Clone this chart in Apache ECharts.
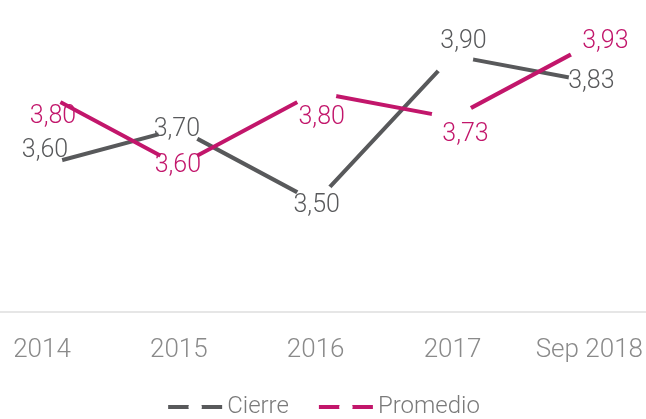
<!DOCTYPE html>
<html>
<head>
<meta charset="utf-8">
<script src="https://cdn.jsdelivr.net/npm/echarts@6/dist/echarts.min.js"></script>
<style>
  html, body { margin: 0; padding: 0; background: #fff; }
  #chart { width: 646px; height: 419px; }
</style>
</head>
<body>
<div id="chart"></div>
<script>
// datos
const categories = ['2014', '2015', '2016', '2017', 'Sep 2018'];
const cierre = [3.60, 3.70, 3.50, 3.90, 3.83];
const promedio = [3.80, 3.60, 3.80, 3.73, 3.93];

// desplazamiento de etiquetas (px)
const cierreOffsets = [[3, -15], [-2, 1], [1, 4], [11, -14], [2, 0]];
const promedioOffsets = [[11, 24], [-1, 0], [6, 25], [13, 17], [16, -3]];

const GRAY = '#58595b';
const MAGENTA = '#c2166b';
const FONT = 'Roboto';

const fmt = v => v.toFixed(2).replace('.', ',');

const buildData = (values, offsets) => values.map((v, i) => ({
  value: v,
  label: { offset: offsets[i] }
}));

const makeSeries = (name, values, offsets, color) => ({
  name,
  type: 'line',
  data: buildData(values, offsets),
  symbol: 'circle',
  symbolSize: 42,
  showAllSymbol: true,
  silent: true,
  itemStyle: { color: '#fff', borderWidth: 0 },
  lineStyle: { color, width: 4 },
  emphasis: { disabled: true },
  label: {
    show: true,
    position: 'inside',
    color,
    fontFamily: FONT,
    fontWeight: 300,
    fontSize: 25,
    formatter: p => fmt(p.value)
  }
});

const chart = echarts.init(document.getElementById('chart'));

const option = {
  animation: false,
  grid: { left: 42, right: 56, top: 19, bottom: 107 },
  legend: {
    top: 390,
    left: 'center',
    itemWidth: 54,
    itemHeight: 17,
    itemGap: 28,
    selectedMode: false,
    lineStyle: { width: 4 },
    textStyle: { color: '#7a7a7a', fontFamily: FONT, fontWeight: 300, fontSize: 24 },
    data: ['Cierre', 'Promedio']
  },
  xAxis: {
    type: 'category',
    data: categories,
    boundaryGap: false,
    axisLine: { show: false },
    axisTick: { show: false },
    axisLabel: {
      interval: 0,
      color: '#8a8a8a',
      fontFamily: FONT,
      fontWeight: 300,
      fontSize: 26,
      margin: 25
    }
  },
  yAxis: {
    type: 'value',
    min: 3.2,
    max: 4.0,
    show: false
  },
  series: [
    makeSeries('Cierre', cierre, cierreOffsets, GRAY),
    makeSeries('Promedio', promedio, promedioOffsets, MAGENTA)
  ]
};

chart.setOption(option);

// linea base del eje a todo lo ancho
const baseY = chart.convertToPixel({ yAxisIndex: 0 }, 3.2);
chart.setOption({
  graphic: [{
    type: 'line',
    silent: true,
    shape: { x1: 0, y1: baseY, x2: chart.getWidth(), y2: baseY },
    style: { stroke: '#dedede', lineWidth: 1.5 }
  }]
});
</script>
</body>
</html>
